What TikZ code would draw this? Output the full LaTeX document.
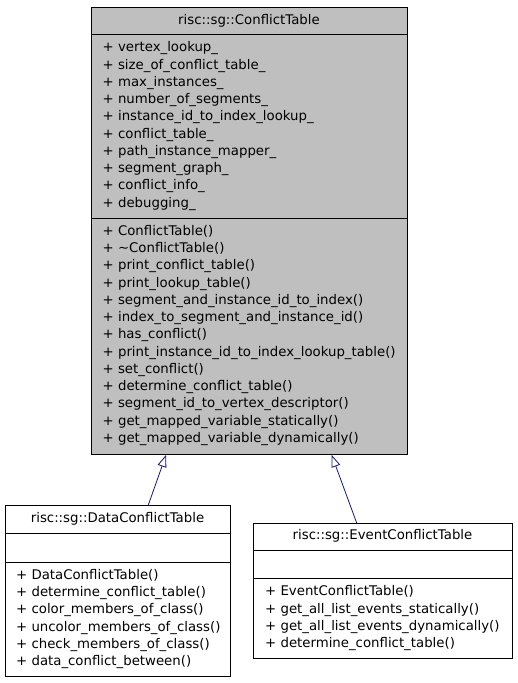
\documentclass[tikz,border=0pt]{standalone}
\usepackage{fontspec}
\setmainfont{DejaVu Sans}
\usetikzlibrary{arrows.meta}
\definecolor{boxgray}{HTML}{BFBFBF}
\definecolor{edgeblue}{HTML}{191970}
\begin{document}
\begin{tikzpicture}[x=1pt,y=-1pt,
  classbox/.style={draw=black, line width=1pt, inner sep=0pt, anchor=north west},
  titletext/.style={font=\fontsize{13.3}{16}\selectfont, inner sep=0pt},
  members/.style={font=\fontsize{13.3}{17.25}\selectfont, align=left, inner sep=0pt, anchor=north west},
  inherit/.style={draw=edgeblue, line width=0.8pt, -{Triangle[open, length=12pt, width=9pt, fill=white]}}
]
\useasboundingbox (0,0) rectangle (517,683);
\fill[white] (0,0) rectangle (517,683);

% main class
\node[classbox, fill=boxgray, minimum width=316pt, minimum height=447pt] (ct) at (91,7) {};
\draw[line width=1pt] (91,34) -- (407,34);
\draw[line width=1pt] (91,218) -- (407,218);
\node[titletext] (cttitle) at (249,20.5) {risc::sg::ConflictTable};
\node[members] (ctattr) at (102.5,41.5) {+ vertex\_lookup\_\\+ size\_of\_conflict\_table\_\\+ max\_instances\_\\+ number\_of\_segments\_\\+ instance\_id\_to\_index\_lookup\_\\+ conflict\_table\_\\+ path\_instance\_mapper\_\\+ segment\_graph\_\\+ conflict\_info\_\\+ debugging\_};
\node[members] (ctmeth) at (102.5,225) {+ ConflictTable()\\+ \textasciitilde ConflictTable()\\+ print\_conflict\_table()\\+ print\_lookup\_table()\\+ segment\_and\_instance\_id\_to\_index()\\+ index\_to\_segment\_and\_instance\_id()\\+ has\_conflict()\\+ print\_instance\_id\_to\_index\_lookup\_table()\\+ set\_conflict()\\+ determine\_conflict\_table()\\+ segment\_id\_to\_vertex\_descriptor()\\+ get\_mapped\_variable\_statically()\\+ get\_mapped\_variable\_dynamically()};

% DataConflictTable
\node[classbox, fill=white, minimum width=225pt, minimum height=171pt] (dct) at (5,505) {};
\draw[line width=1pt] (5,533) -- (230,533);
\draw[line width=1pt] (5,562) -- (230,562);
\node[titletext] (dcttitle) at (117.5,519) {risc::sg::DataConflictTable};
\node[members] (dctmeth) at (16,569) {+ DataConflictTable()\\+ determine\_conflict\_table()\\+ color\_members\_of\_class()\\+ uncolor\_members\_of\_class()\\+ check\_members\_of\_class()\\+ data\_conflict\_between()};

% EventConflictTable
\node[classbox, fill=white, minimum width=259pt, minimum height=135pt] (ect) at (253,523) {};
\draw[line width=1pt] (253,550) -- (512,550);
\draw[line width=1pt] (253,578) -- (512,578);
\node[titletext] (ecttitle) at (382.5,536) {risc::sg::EventConflictTable};
\node[members] (ectmeth) at (265,585.5) {+ EventConflictTable()\\+ get\_all\_list\_events\_statically()\\+ get\_all\_list\_events\_dynamically()\\+ determine\_conflict\_table()};

% inheritance
\coordinate (d1) at (148.3,505);
\coordinate (t1) at (166,455);
\coordinate (e1) at (356.7,523);
\coordinate (t2) at (331.7,455);
\draw[inherit] (d1) -- (t1);
\draw[inherit] (e1) -- (t2);
\end{tikzpicture}
\end{document}
